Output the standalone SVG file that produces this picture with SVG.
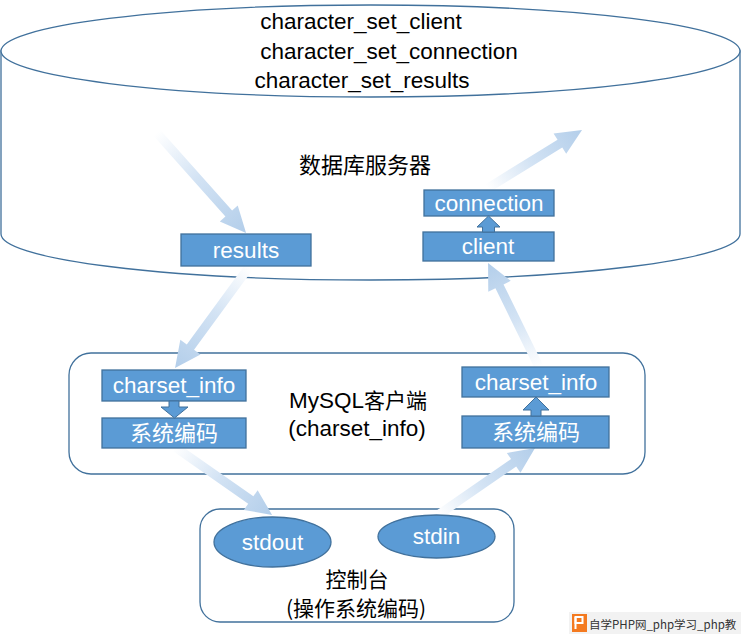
<svg xmlns="http://www.w3.org/2000/svg" width="741" height="638" viewBox="0 0 741 638">
<style>
.outline{fill:#FFFFFF;stroke:#41719C;stroke-width:1.3}
.box{fill:#5B9BD5;stroke:#41719C;stroke-width:1.3}
.blk{fill:#5B9BD5;stroke:#41719C;stroke-width:1}
.flow{fill:url(#fade)}
.t{font-family:"Liberation Sans","Noto Sans CJK SC",sans-serif;font-size:22.5px;text-anchor:middle}
.w{fill:#FFFFFF}
.k{fill:#000000}
.cjk{font-family:"Noto Sans CJK SC","Liberation Sans",sans-serif;font-size:22px;text-anchor:middle}
</style>
<defs>
<linearGradient id="fade" x1="0" y1="0" x2="1" y2="0">
<stop offset="0" stop-color="#FFFFFF"/>
<stop offset="0.45" stop-color="#D3E3F4"/>
<stop offset="1" stop-color="#B3CEEA"/>
</linearGradient>
</defs>

<g id="server">
<path class="outline" d="M1,51 L1,234 A369.5,46 0 0 0 740,234 L740,51 Z"/>
<ellipse class="outline" cx="370.5" cy="51" rx="369.5" ry="46"/>
<text class="t k" x="361" y="29">character_set_client</text>
<text class="t k" x="389" y="59">character_set_connection</text>
<text class="t k" x="362" y="88">character_set_results</text>
<text class="cjk k" x="365" y="173">数据库服务器</text>
</g>

<g id="mysql-client">
<rect class="outline" x="69" y="353" width="576" height="121" rx="22" ry="22"/>
<text class="t k" x="358" y="408">MySQL<tspan style="font-family:'Noto Sans CJK SC',sans-serif;font-size:21px">客户端</tspan></text>
<text class="t k" x="357" y="436">(charset_info)</text>
</g>

<g id="console">
<rect class="outline" x="200" y="509" width="314" height="113" rx="20" ry="20"/>
<text class="cjk k" x="357" y="587" style="font-size:21px">控制台</text>
<text class="cjk k" x="356" y="616" style="font-size:21px">(操作系统编码)</text>
</g>

<g id="connectors">
<polygon class="flow" transform="translate(157,133) rotate(48.3)" points="0,-4.5 107.9,-4.5 107.9,-12 133.9,0 107.9,12 107.9,4.5 0,4.5"/>
<polygon class="flow" transform="translate(488,188) rotate(-31.7)" points="0,-4.5 84.5,-4.5 84.5,-12 110.5,0 84.5,12 84.5,4.5 0,4.5"/>
<polygon class="flow" transform="translate(249,267) rotate(126.2)" points="0,-4.5 99.2,-4.5 99.2,-12.5 125.2,0 99.2,12.5 99.2,4.5 0,4.5"/>
<polygon class="flow" transform="translate(539,367) rotate(-116.1)" points="0,-4.5 89.8,-4.5 89.8,-12.5 115.8,0 89.8,12.5 89.8,4.5 0,4.5"/>
<polygon class="flow" transform="translate(175,447) rotate(35)" points="0,-4.5 92.5,-4.5 92.5,-12 118.5,0 92.5,12 92.5,4.5 0,4.5"/>
<polygon class="flow" transform="translate(438,515) rotate(-34.6)" points="0,-4.5 91.9,-4.5 91.9,-12 117.9,0 91.9,12 91.9,4.5 0,4.5"/>
</g>

<g id="results">
<rect class="box" x="181" y="234" width="130" height="32"/>
<text class="t w" x="246" y="258">results</text>
</g>
<g id="connection">
<rect class="box" x="424" y="190" width="130" height="26"/>
<text class="t w" x="489" y="211">connection</text>
</g>
<g id="client">
<rect class="box" x="423" y="232" width="131" height="29"/>
<text class="t w" x="488" y="254">client</text>
</g>
<g id="charset-info-left">
<rect class="box" x="102" y="370" width="144" height="31"/>
<text class="t w" x="174" y="393">charset_info</text>
</g>
<g id="sys-enc-left">
<rect class="box" x="102" y="418" width="144" height="30"/>
<text class="cjk w" x="174" y="441">系统编码</text>
</g>
<g id="charset-info-right">
<rect class="box" x="462" y="367" width="147" height="30"/>
<text class="t w" x="536" y="390">charset_info</text>
</g>
<g id="sys-enc-right">
<rect class="box" x="462" y="416" width="147" height="32"/>
<text class="cjk w" x="536" y="440">系统编码</text>
</g>
<g id="stdout">
<ellipse class="box" cx="272.5" cy="542" rx="58.5" ry="25"/>
<text class="t w" x="272.5" y="550">stdout</text>
</g>
<g id="stdin">
<ellipse class="box" cx="436.5" cy="536.5" rx="58.5" ry="21.5"/>
<text class="t w" x="436.5" y="544">stdin</text>
</g>

<g id="block-arrows">
<polygon class="blk" points="482.5,232 482.5,227 477,227 488.5,216 500,227 494.5,227 494.5,232"/>
<polygon class="blk" points="169,401 179,401 179,407 188,407 174.5,418 161,407 169,407"/>
<polygon class="blk" points="531,416 531,410 523,410 536,397 549,410 541,410 541,416"/>
</g>

<g id="watermark">
<rect x="569" y="612" width="172" height="22" fill="#F2F2F2"/>
<rect x="572" y="614" width="15" height="18" fill="#F47A20"/>
<rect x="575.5" y="617" width="7" height="6" fill="none" stroke="#FFFFFF" stroke-width="2"/>
<rect x="574.5" y="617" width="2" height="12" fill="#FFFFFF"/>
<text x="589" y="628.5" style="font-family:'Noto Sans CJK SC','Liberation Sans',sans-serif;font-size:11.5px;fill:#333333">自学PHP网_php学习_php教</text>
</g>
</svg>
